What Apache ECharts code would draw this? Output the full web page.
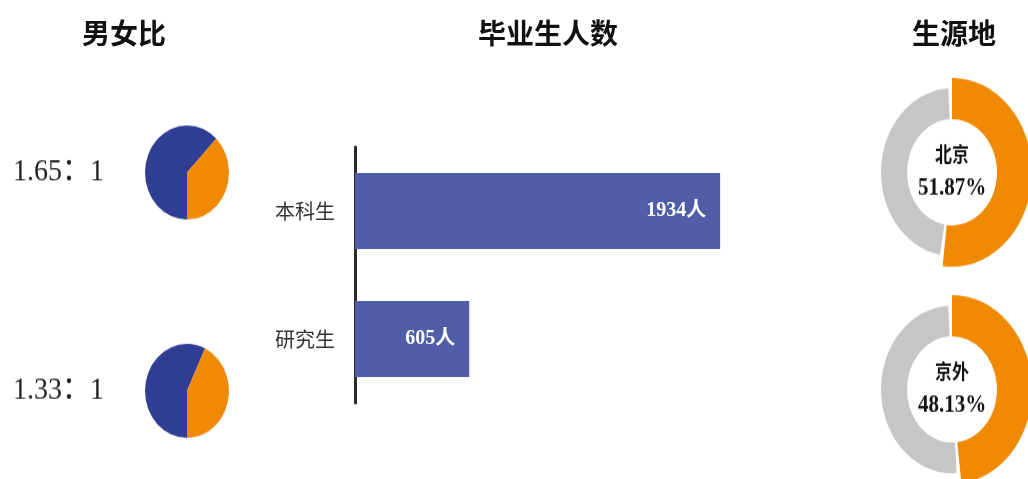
<!DOCTYPE html>
<html>
<head>
<meta charset="utf-8">
<script src="https://cdn.jsdelivr.net/npm/echarts@6/dist/echarts.min.js"></script>
<style>
  html, body { margin: 0; padding: 0; background: #ffffff; overflow: hidden; }
  #main { position: absolute; left: 0; top: 0; width: 1028px; height: 479px; }
  #left { position: absolute; left: 0; top: 0; width: 300px; height: 428px; transform: scaleY(1.12); transform-origin: 0 0; }
  #right { position: absolute; left: 860px; top: 0; width: 168px; height: 406px; transform: scaleY(1.18); transform-origin: 0 0; }
</style>
</head>
<body>
<div id="main"></div>
<div id="left"></div>
<div id="right"></div>
<script>
// ---- data ----
const panelTitles = ['男女比', '毕业生人数', '生源地'];
const genderNames = ['男', '女'];
const maleRatio = [1.65, 1.33];
const femaleRatio = [1, 1];
const graduateCategories = ['本科生', '研究生'];
const graduateCounts = [1934, 605];
const originNames = ['北京', '京外'];
const originShares = [51.87, 48.13];

// ---- styles ----
const BLUE_DARK = '#2f3d93';
const BAR_BLUE = '#4f5ea6';
const ORANGE = '#f08a04';
const GRAY = '#c6c6c6';
const CJK = '"Noto Sans CJK SC", sans-serif';
const SERIF = '"Liberation Serif", "Noto Sans CJK SC", serif';

// ---- main chart: titles + bar ----
const main = echarts.init(document.getElementById('main'), null, { renderer: 'canvas' });
const titleX = [124, 548, 954];
main.setOption({
  animation: false,
  graphic: panelTitles.map((t, i) => ({
    type: 'text', x: titleX[i], y: 33, silent: true,
    style: { text: t, align: 'center', verticalAlign: 'middle', fontSize: 28, fontWeight: 'bold', fontFamily: CJK, fill: '#111' }
  })),
  grid: { left: 355, top: 147, width: 472, height: 256, containLabel: false },
  xAxis: { type: 'value', min: 0, max: 2500, show: false },
  yAxis: {
    type: 'category', data: graduateCategories, inverse: true,
    axisLine: { show: true, lineStyle: { color: '#2a2a2a', width: 3 } },
    axisTick: { show: false },
    splitLine: { show: false },
    axisLabel: { margin: 20, fontSize: 20, color: '#333', fontFamily: CJK }
  },
  series: [{
    type: 'bar', data: graduateCounts, barWidth: 76, silent: true,
    itemStyle: { color: BAR_BLUE },
    label: {
      show: true, position: 'insideRight', distance: 14, formatter: '{c}人',
      color: '#fff', fontSize: 20, fontWeight: 'bold', fontFamily: SERIF
    }
  }]
});

// ---- left: gender ratio pies (vertically stretched) ----
const left = echarts.init(document.getElementById('left'));
const pieCY = [154, 349];
left.setOption({
  animation: false,
  graphic: maleRatio.map((m, i) => ({
    type: 'text', x: 13, y: pieCY[i], silent: true,
    style: { text: m.toFixed(2) + '：' + femaleRatio[i], align: 'left', verticalAlign: 'middle', fontSize: 28, fontFamily: SERIF, fill: '#222' }
  })),
  series: maleRatio.map((m, i) => ({
    type: 'pie', center: [187, pieCY[i]], radius: 42, startAngle: 270, clockwise: true, silent: true,
    label: { show: false }, labelLine: { show: false },
    itemStyle: { borderWidth: 0 },
    emphasis: { disabled: true },
    data: [
      { name: genderNames[0], value: m, itemStyle: { color: BLUE_DARK } },
      { name: genderNames[1], value: femaleRatio[i], itemStyle: { color: ORANGE } }
    ]
  }))
});

// ---- right: origin donuts (vertically stretched) ----
const right = echarts.init(document.getElementById('right'));
const donutCY = [146, 330];
const donutSeries = [];
originShares.forEach((s, i) => {
  const rest = +(100 - s).toFixed(2);
  donutSeries.push({
    type: 'pie', center: [92, donutCY[i]], radius: [45, 80], startAngle: 90, clockwise: true, silent: true,
    emphasis: { disabled: true }, labelLine: { show: false },
    itemStyle: { borderWidth: 0 },
    label: {
      show: true, position: 'center',
      formatter: '{n|{b}}\n{v|{c}%}',
      rich: {
        n: { fontSize: 17, fontWeight: 'bold', fontFamily: CJK, color: '#111', lineHeight: 28, align: 'center' },
        v: { fontSize: 21, fontWeight: 'bold', fontFamily: SERIF, color: '#111', lineHeight: 30, align: 'center' }
      }
    },
    data: [
      { name: originNames[i], value: s, itemStyle: { color: ORANGE } },
      { name: '', value: rest, itemStyle: { color: 'rgba(0,0,0,0)' }, label: { show: false } }
    ]
  });
  donutSeries.push({
    type: 'pie', center: [92, donutCY[i]], radius: [45, 71], startAngle: 90, clockwise: true, silent: true,
    padAngle: 6,
    emphasis: { disabled: true }, label: { show: false }, labelLine: { show: false },
    itemStyle: { borderWidth: 0 },
    data: [
      { name: originNames[i], value: s, itemStyle: { color: 'rgba(0,0,0,0)' } },
      { name: '', value: rest, itemStyle: { color: GRAY } }
    ]
  });
});
right.setOption({ animation: false, series: donutSeries });
</script>
</body>
</html>
